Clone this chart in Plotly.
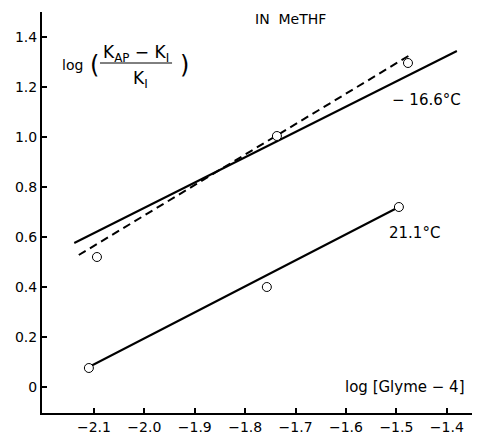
import plotly.graph_objects as go

# Data
x_warm = [-2.110, -1.757, -1.495]
y_warm = [0.076, 0.400, 0.720]
fit_warm_x = [-2.110, -1.495]
fit_warm_y = [0.080, 0.720]

x_cold = [-2.094, -1.737, -1.477]
y_cold = [0.520, 1.004, 1.296]
fit_cold_x = [-2.139, -1.380]
fit_cold_y = [0.576, 1.344]
dash_cold_x = [-2.130, -1.473]
dash_cold_y = [0.528, 1.328]

x_ticks = [-2.1, -2.0, -1.9, -1.8, -1.7, -1.6, -1.5, -1.4]
x_ticktext = ["−2.1", "−2.0", "−1.9", "−1.8", "−1.7", "−1.6", "−1.5", "−1.4"]
y_ticks = [0, 0.2, 0.4, 0.6, 0.8, 1.0, 1.2, 1.4]
y_ticktext = ["0", "0.2", "0.4", "0.6", "0.8", "1.0", "1.2", "1.4"]

FONT = "DejaVu Sans"
fig = go.Figure()

line_style = dict(color="black", width=2)
fig.add_trace(go.Scatter(x=fit_cold_x, y=fit_cold_y, mode="lines", line=line_style))
fig.add_trace(go.Scatter(x=dash_cold_x, y=dash_cold_y, mode="lines",
                         line=dict(color="black", width=2, dash="8px,5px")))
fig.add_trace(go.Scatter(x=fit_warm_x, y=fit_warm_y, mode="lines", line=line_style))

marker_style = dict(symbol="circle", size=9, color="white", line=dict(color="black", width=1))
fig.add_trace(go.Scatter(x=x_cold, y=y_cold, mode="markers", marker=marker_style))
fig.add_trace(go.Scatter(x=x_warm, y=y_warm, mode="markers", marker=marker_style))

def ann(x, y, text, size=13, xanchor="center"):
    fig.add_annotation(x=x, y=y, xref="x", yref="y", text=text, showarrow=False,
                       font=dict(family=FONT, size=size, color="black"),
                       xanchor=xanchor, yanchor="middle")

ann(-1.711, 1.472, "IN  MeTHF", size=14)
ann(-1.441, 1.148, "− 16.6°C", size=15)
ann(-1.465, 0.616, "21.1°C", size=15)
ann(-1.483, 0.0, "log [Glyme − 4]", size=15)
ann(-2.143, 1.288, "log", size=14)
ann(-2.099, 1.288, "(", size=24)
ann(-2.016, 1.336, "K<sub>AP</sub> − K<sub>I</sub>", size=17)
ann(-2.007, 1.232, "K<sub>I</sub>", size=17)
ann(-1.920, 1.288, ")", size=24)
fig.add_shape(type="line", xref="x", yref="y", x0=-2.088, x1=-1.945, y0=1.296, y1=1.296,
              line=dict(color="black", width=1))

# The page body has an 8px margin, so the figure is shifted by 8px; margins compensate.
fig.update_layout(
    width=473, height=426,
    margin=dict(l=34, r=9, t=4, b=21),
    paper_bgcolor="white", plot_bgcolor="white",
    showlegend=False,
    font=dict(family=FONT, size=13, color="black"),
)
fig.update_xaxes(range=[-2.203, -1.350], tickvals=x_ticks, ticktext=x_ticktext,
                 ticks="inside", ticklen=5, tickwidth=1.5, tickcolor="black",
                 showline=True, linecolor="black", linewidth=2, showgrid=False,
                 zeroline=False, tickfont=dict(size=14), automargin=False)
fig.update_yaxes(range=[-0.104, 1.5], tickvals=y_ticks, ticktext=y_ticktext,
                 ticks="inside", ticklen=5, tickwidth=1.5, tickcolor="black",
                 showline=True, linecolor="black", linewidth=2, showgrid=False,
                 zeroline=False, tickfont=dict(size=14), automargin=False)

fig.write_html("out.html")
